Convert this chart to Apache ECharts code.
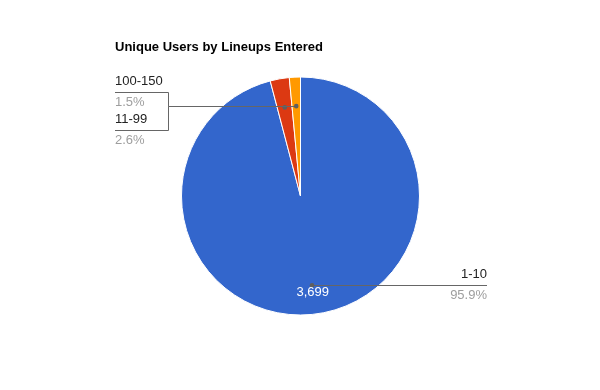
<!DOCTYPE html>
<html><head><meta charset="utf-8">
<script src="https://cdn.jsdelivr.net/npm/echarts@6/dist/echarts.min.js"></script>
<style>html,body{margin:0;padding:0;background:#fff}#c{width:600px;height:390px}</style>
</head><body><div id="c"></div>
<script>
// ---- data ----
const chartTitle = 'Unique Users by Lineups Entered';
const categories = ['1-10', '11-99', '100-150'];
const users = [3699, 100, 58];
const colors = ['#3366cc', '#dc3912', '#ff9900'];

// ---- layout ----
const CX = 300.5, CY = 196, R = 119;
const DOT_R = 0.756, TEXT_R = 0.805;
const FONT = '"Liberation Sans", Arial, sans-serif';
const RIGHT_X = 487, LEFT_X = 115, ELBOW_X = 168.5;
const LEFT_LINE_Y = { 1: 130.5, 2: 92.5 };

const total = users.reduce((a, b) => a + b, 0);
const mids = [];
let acc = 0;
users.forEach(v => { mids.push(acc + v / 2); acc += v; });
function pt(rf, val) {
  const a = val / total * 2 * Math.PI;
  return [CX + rf * R * Math.sin(a), CY - rf * R * Math.cos(a)];
}
const pieData = categories.map((c, i) => ({ name: c, value: users[i], itemStyle: { color: colors[i] } }));

function snap(v) { return Math.floor(v) + 0.5; }

const chart = echarts.init(document.getElementById('c'), null, { renderer: 'canvas' });
chart.setOption({
  animation: false,
  backgroundColor: '#fff',
  title: {
    text: chartTitle, left: 110, top: 36,
    textStyle: { fontSize: 13, fontWeight: 'bold', color: '#000', fontFamily: FONT }
  },
  polar: { center: [CX, CY], radius: R },
  angleAxis: { type: 'value', min: 0, max: total, startAngle: 90, clockwise: true, show: false },
  radiusAxis: { type: 'value', min: 0, max: 1, show: false },
  series: [
    {
      type: 'pie', center: [CX, CY], radius: R, startAngle: 90, clockwise: true,
      data: pieData, silent: true, emphasis: { disabled: true }, z: 2,
      itemStyle: { borderColor: '#fff', borderWidth: 1 },
      label: { show: false },
      labelLine: { show: false }
    },
    {
      type: 'pie', center: [CX, CY], radius: R, startAngle: 90, clockwise: true,
      data: pieData.map(d => ({ name: d.name, value: d.value })),
      silent: true, emphasis: { disabled: true }, percentPrecision: 1,
      avoidLabelOverlap: false, z: 6,
      itemStyle: { color: 'rgba(0,0,0,0)', borderWidth: 0 },
      label: {
        show: true, position: 'outside', fontFamily: FONT,
        formatter: '{n|{b}}\n{p|{d}%}',
        rich: {
          n: { color: '#222', fontSize: 13, lineHeight: 21, fontFamily: FONT },
          p: { color: '#9e9e9e', fontSize: 13, lineHeight: 21, fontFamily: FONT }
        }
      },
      labelLine: { show: false },
      labelLayout: p => {
        const i = p.dataIndex;
        if (i === 0) {
          const y = snap(pt(DOT_R, mids[0])[1]);
          return { x: RIGHT_X, y: y - 1, align: 'right', verticalAlign: 'middle' };
        }
        return { x: LEFT_X, y: LEFT_LINE_Y[i] - 1, align: 'left', verticalAlign: 'middle' };
      }
    },
    {
      type: 'custom', coordinateSystem: 'polar', silent: true, zlevel: 1, z: 8,
      data: mids.map((m, i) => [DOT_R, m, i, users[i]]),
      renderItem: (params, api) => {
        const i = api.value(2);
        const p = api.coord([api.value(0), api.value(1)]);
        let pts;
        if (i === 0) {
          const y = snap(p[1]);
          pts = [[p[0], y], [RIGHT_X, y]];
        } else {
          const a = pt(DOT_R, mids[1]), b = pt(DOT_R, mids[2]);
          const y = snap((a[1] + b[1]) / 2);
          const ly = LEFT_LINE_Y[i];
          pts = [[p[0], y], [ELBOW_X, y], [ELBOW_X, ly], [LEFT_X, ly]];
        }
        const children = [
          { type: 'polyline', shape: { points: pts }, style: { stroke: '#666', lineWidth: 1, fill: null } },
          { type: 'circle', shape: { cx: p[0], cy: p[1], r: 2.3 }, style: { fill: '#5f5f5f' } }
        ];
        if (i === 0) {
          const q = pt(TEXT_R, mids[0]);
          children.push({
            type: 'text',
            style: {
              x: q[0], y: q[1] + 1, text: echarts.format.addCommas(api.value(3)),
              fill: '#fff', fontSize: 13, fontFamily: FONT, align: 'center', verticalAlign: 'middle'
            }
          });
        }
        return { type: 'group', children };
      }
    }
  ]
});
</script></body></html>
